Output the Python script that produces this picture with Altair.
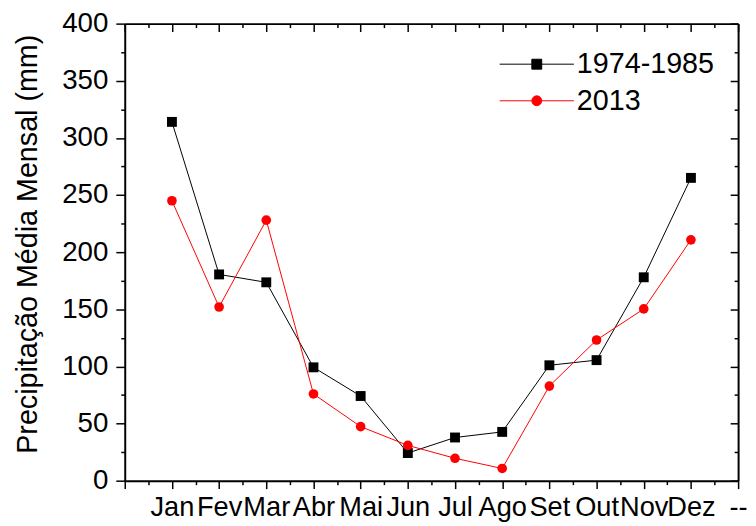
import altair as alt
import pandas as pd

FONT = "Liberation Sans"

months = ["Jan", "Fev", "Mar", "Abr", "Mai", "Jun", "Jul", "Ago", "Set", "Out", "Nov", "Dez"]
axis_labels = [""] + months + ["--"]
month_idx = list(range(1, 13))

series_names = ["1974-1985", "2013"]
series_colors = ["#000000", "#ff0000"]
series_a = [314, 180.5, 173.6, 99.2, 74.1, 24.2, 37.8, 42.7, 101, 105.5, 178, 265]
series_b = [245, 152, 228, 75.9, 47.3, 30.9, 19.6, 10.7, 82.8, 123.1, 150.3, 210.8]

y_ticks = list(range(0, 401, 25))
x_ticks = [i / 2 for i in range(0, 27)]

rows = []
for name, vals in zip(series_names, [series_a, series_b]):
    for i, m, v in zip(month_idx, months, vals):
        rows.append({"idx": i, "month": m, "value": v, "series": name})
df = pd.DataFrame(rows)
df_a = df[df.series == series_names[0]]
df_b = df[df.series == series_names[1]]

xscale = alt.Scale(domain=[0, 13], nice=False, zero=False)
yscale = alt.Scale(domain=[0, 400], nice=False, zero=False)

label_js = "[" + ",".join("'" + l + "'" for l in axis_labels) + "]"
x_label_expr = "datum.value % 1 === 0 ? " + label_js + "[datum.value] : ''"
y_label_expr = "datum.value % 50 === 0 ? datum.label : ''"

common = dict(domainColor="black", domainWidth=2, tickColor="black", tickWidth=1.5,
              grid=False, labelFont=FONT, labelColor="black")

ax_bottom = alt.Axis(orient="bottom", values=x_ticks, labelExpr=x_label_expr,
                     tickSize=alt.ExprRef("datum.value % 1 === 0 ? 8 : 4"),
                     labelFontSize=27.5, labelPadding=5, labelOverlap=False,
                     labelFlush=False, title=None, **common)
ax_left = alt.Axis(orient="left", values=y_ticks, labelExpr=y_label_expr,
                   tickSize=alt.ExprRef("datum.value % 50 === 0 ? 9 : 4"),
                   labelFontSize=28, labelPadding=8, labelOverlap=False,
                   labelFlush=False,
                   title="Precipitação Média Mensal (mm)", titleFont=FONT,
                   titleFontSize=29, titleFontWeight="normal", titleColor="black",
                   titleAngle=270, titleX=-98.5, titleY=222.5, titleAlign="center",
                   titleBaseline="middle", **common)
ax_top = alt.Axis(orient="top", values=x_ticks, labels=False, title=None,
                  tickSize=alt.ExprRef("datum.value % 1 === 0 ? -8 : -4"), **common)
ax_right = alt.Axis(orient="right", values=y_ticks, labels=False, title=None,
                    tickSize=alt.ExprRef("datum.value % 50 === 0 ? -8 : -4"), **common)

base_a = alt.Chart(df_a).encode(
    x=alt.X("idx:Q", scale=xscale, axis=ax_bottom),
    y=alt.Y("value:Q", scale=yscale, axis=ax_left),
)
layer_a = alt.layer(
    base_a.mark_line(color=series_colors[0], strokeWidth=1),
    base_a.mark_square(color=series_colors[0], size=100, opacity=1),
)

base_b = alt.Chart(df_b).encode(
    x=alt.X("idx:Q", scale=xscale, axis=ax_top),
    y=alt.Y("value:Q", scale=yscale, axis=ax_right),
)
layer_b = alt.layer(
    base_b.mark_line(color=series_colors[1], strokeWidth=1),
    base_b.mark_circle(color=series_colors[1], size=95, opacity=1),
)

sq_path = "M-3,0H3M-0.4,-0.4H0.4V0.4H-0.4Z"
ci_path = "M-3,0H3M0.4,0A0.4,0.4,0,1,1,-0.4,0A0.4,0.4,0,1,1,0.4,0Z"
leg = alt.Legend(title=None)
legend_layer = alt.Chart(df).transform_filter("datum.idx < 0").mark_point(
    filled=True, opacity=1, strokeWidth=1
).encode(
    x=alt.X("idx:Q", scale=xscale, axis=None),
    y=alt.Y("value:Q", scale=yscale, axis=None),
    fill=alt.Fill("series:N", scale=alt.Scale(domain=series_names, range=series_colors), legend=leg),
    stroke=alt.Stroke("series:N", scale=alt.Scale(domain=series_names, range=series_colors), legend=leg),
    shape=alt.Shape("series:N", scale=alt.Scale(domain=series_names, range=[sq_path, ci_path]), legend=leg),
)

chart = alt.layer(layer_a, layer_b, legend_layer).resolve_axis(
    x="independent", y="independent"
).properties(
    width=620, height=462,
    padding={"left": 118, "top": 13, "right": 10, "bottom": 42},
    autosize=alt.AutoSizeParams(type="none"),
).configure_view(stroke=None).configure_legend(
    orient="none", legendX=402, legendY=26.5, padding=0,
    labelFont=FONT, labelFontSize=29, labelColor="black",
    symbolSize=625, symbolStrokeWidth=1, symbolOffset=0, labelOffset=26,
    rowPadding=7,
)

chart.save("out.html", embed_options={"renderer": "svg", "actions": False})
